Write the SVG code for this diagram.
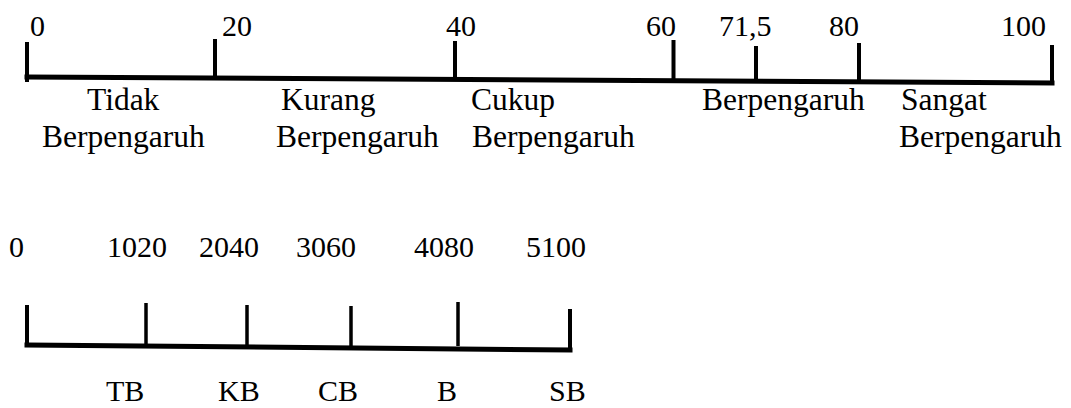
<svg xmlns="http://www.w3.org/2000/svg" width="1071" height="408" viewBox="0 0 1071 408">
<style>
.ax{stroke:#000;stroke-width:5;fill:none;stroke-linecap:square}
.tk{stroke:#000;stroke-width:4;fill:none}
.tk2{stroke:#000;stroke-width:3.5;fill:none}
.n{font-family:"Liberation Serif","Times New Roman",serif;font-size:30px;fill:#000}
.l{font-family:"Liberation Serif","Times New Roman",serif;font-size:31.5px;fill:#000}
.l2{font-family:"Liberation Serif","Times New Roman",serif;font-size:30px;fill:#000}
</style>
<rect width="1071" height="408" fill="#fff"/>
<g id="scale1">
<line class="ax" x1="27" y1="77" x2="1052" y2="83"/>
<line class="tk" x1="27" y1="42" x2="27" y2="82"/>
<line class="tk" x1="215" y1="39" x2="215" y2="78"/>
<line class="tk" x1="455" y1="41" x2="455" y2="80"/>
<line class="tk" x1="673.5" y1="40" x2="673.5" y2="81"/>
<line class="tk" x1="756" y1="46" x2="756" y2="81"/>
<line class="tk" x1="859" y1="43" x2="859" y2="82"/>
<line class="tk" x1="1052" y1="45" x2="1052" y2="85"/>
<text class="n" x="30" y="36">0</text>
<text class="n" x="222" y="36">20</text>
<text class="n" x="446" y="36">40</text>
<text class="n" x="646" y="36">60</text>
<text class="n" x="719" y="36">71,5</text>
<text class="n" x="829" y="36">80</text>
<text class="n" x="1001" y="36">100</text>
<text class="l" x="87" y="110">Tidak</text>
<text class="l" x="42" y="147">Berpengaruh</text>
<text class="l" x="281" y="110">Kurang</text>
<text class="l" x="276" y="147">Berpengaruh</text>
<text class="l" x="471" y="110">Cukup</text>
<text class="l" x="472" y="147">Berpengaruh</text>
<text class="l" x="702" y="110">Berpengaruh</text>
<text class="l" x="901" y="110">Sangat</text>
<text class="l" x="899" y="147">Berpengaruh</text>
</g>
<g id="scale2">
<line class="ax" x1="27" y1="345" x2="570" y2="350"/>
<line class="tk" x1="27" y1="305" x2="27" y2="347"/>
<line class="tk2" x1="146" y1="303" x2="146" y2="346"/>
<line class="tk2" x1="247" y1="305" x2="247" y2="347"/>
<line class="tk2" x1="351" y1="306" x2="351" y2="348"/>
<line class="tk2" x1="458" y1="302" x2="458" y2="346"/>
<line class="tk" x1="570" y1="309" x2="570" y2="351"/>
<text class="n" x="9" y="257">0</text>
<text class="n" x="107" y="257">1020</text>
<text class="n" x="199" y="257">2040</text>
<text class="n" x="296" y="257">3060</text>
<text class="n" x="414" y="257">4080</text>
<text class="n" x="526" y="257">5100</text>
<text class="l2" x="106" y="401">TB</text>
<text class="l2" x="218" y="401">KB</text>
<text class="l2" x="318" y="401">CB</text>
<text class="l2" x="437" y="401">B</text>
<text class="l2" x="549" y="401">SB</text>
</g>
</svg>
